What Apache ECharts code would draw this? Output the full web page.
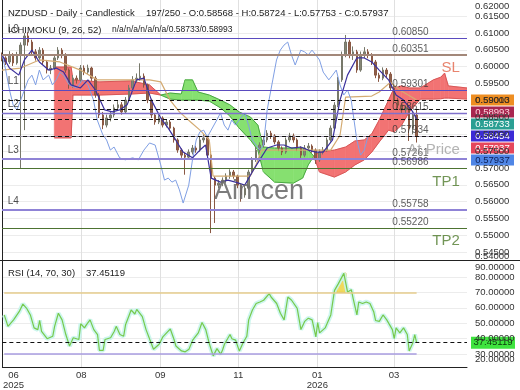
<!DOCTYPE html>
<html>
<head>
<meta charset="utf-8">
<script src="https://cdn.jsdelivr.net/npm/echarts@6.0.0/dist/echarts.min.js"></script>
<style>
html,body{margin:0;padding:0;background:#ffffff;}
#chart{width:520px;height:390px;}
</style>
</head>
<body>
<div id="chart"></div>
<script>
// ---------------- DATA ----------------
const candleBars = [0,2,4,6,8,10,12,14,16,18,20,22,24,26,28,30,32,34,36,38,40,42,44,46,48,50,52,54,56,58,60,62,64,66,68,70,72,74,76,78,80,82,84,86,88,90,92,94,96,98,100,102,104,106,108,110,112,114,116,118,120,122,124,126,128,130,132,134,136,138,140,142,144,146,148,150,152,154,156,158,160,162,164,166,168,170,172,174,176,178,180,182,184,186,188,190,192,194,196,198,200,202,204,206,208,210,212,214,216,218,220,222];
const firstOpen = 0.6030;
const closes = [0.6026,0.6014,0.6035,0.6011,0.6035,0.6064,0.6091,0.6073,0.6044,0.6026,
0.6049,0.6014,0.5990,0.5996,0.6026,0.6049,0.6035,0.5990,0.5946,0.5966,
0.5961,0.5996,0.5984,0.5996,0.5966,0.5916,0.5857,0.5827,0.5848,0.5857,
0.5878,0.5887,0.5866,0.5901,0.5937,0.5961,0.5966,0.5972,0.5946,0.5901,
0.5857,0.5836,0.5848,0.5827,0.5836,0.5818,0.5783,0.5753,0.5738,0.5732,
0.5747,0.5759,0.5753,0.5783,0.5789,0.5738,0.5670,0.5649,0.5655,0.5664,
0.5676,0.5688,0.5676,0.5649,0.5620,0.5640,0.5688,0.5724,0.5753,0.5768,
0.5783,0.5803,0.5795,0.5777,0.5759,0.5747,0.5783,0.5795,0.5783,0.5759,
0.5738,0.5759,0.5765,0.5753,0.5724,0.5747,0.5753,0.5783,0.5818,0.5886,
0.5961,0.6035,0.6073,0.6035,0.6044,0.5990,0.6035,0.6044,0.6035,0.6014,
0.5975,0.5966,0.5990,0.5978,0.5937,0.5901,0.5886,0.5872,0.5878,0.5818,
0.58568,0.57937];
const lows = [0.6016,0.6005,0.6008,0.6002,0.6006,0.5700,0.5812,0.6062,0.6036,0.6018,
0.6020,0.6005,0.5980,0.5978,0.5990,0.6020,0.6025,0.5982,0.5935,0.5938,
0.5950,0.5955,0.5975,0.5978,0.5958,0.5908,0.5848,0.5815,0.5820,0.5838,
0.5850,0.5870,0.5858,0.5860,0.5895,0.5930,0.5952,0.5958,0.5938,0.5892,
0.5848,0.5828,0.5830,0.5820,0.5820,0.5810,0.5775,0.5745,0.5730,0.5680,
0.5725,0.5740,0.5745,0.5748,0.5775,0.5730,0.5507,0.5537,0.5640,0.5646,
0.5656,0.5668,0.5668,0.5640,0.5600,0.5612,0.5635,0.5680,0.5718,0.5745,
0.5760,0.5776,0.5786,0.5770,0.5750,0.5738,0.5742,0.5776,0.5775,0.5750,
0.5730,0.5732,0.5750,0.5745,0.5712,0.5718,0.5740,0.5748,0.5778,0.5812,
0.5880,0.5955,0.6028,0.6025,0.6020,0.5982,0.5985,0.6026,0.6025,0.6005,
0.5966,0.5955,0.5960,0.5968,0.5928,0.5890,0.5876,0.5860,0.5862,0.5780,
0.5800,0.57753];
const highs = [0.6042,0.6031,0.6046,0.6040,0.6044,0.6072,0.6100,0.6102,0.6080,0.6052,
0.6058,0.6055,0.6020,0.6005,0.6034,0.6058,0.6055,0.6040,0.5995,0.5975,
0.5974,0.6005,0.6004,0.6006,0.6000,0.5972,0.5922,0.5866,0.5858,0.5866,
0.5888,0.5898,0.5895,0.5910,0.5946,0.5972,0.5980,0.6010,0.5980,0.5950,
0.5905,0.5862,0.5856,0.5853,0.5844,0.5842,0.5822,0.5788,0.5758,0.5745,
0.5755,0.5768,0.5766,0.5792,0.5800,0.5795,0.5742,0.5675,0.5664,0.5672,
0.5684,0.5696,0.5694,0.5680,0.5652,0.5648,0.5695,0.5732,0.5762,0.5776,
0.5792,0.5812,0.5810,0.5800,0.5782,0.5764,0.5790,0.5804,0.5802,0.5788,
0.5764,0.5768,0.5774,0.5770,0.5758,0.5755,0.5762,0.5790,0.5826,0.5895,
0.5970,0.6045,0.6094,0.6080,0.6060,0.6050,0.6045,0.6058,0.6052,0.6040,
0.6020,0.5982,0.5998,0.5996,0.5984,0.5942,0.5908,0.5892,0.5886,0.5883,
0.5865,0.58724];

const tenkanBars = [0,4,9,12,16,20,25,29,33,37,42,46,50,55,59,63,67,72,76,80,85,89,93,97,102,106,109,112,117,121,125,130,134,138,142,147,151,155,160,164,168,172,177,181,185,190,194,198,202,207,211,215,220,222];
const tenkan = [0.6035,0.5996,0.5975,0.6020,0.6049,0.6014,0.5990,0.5996,0.5984,0.5946,
0.5937,0.5961,0.5931,0.5872,0.5866,0.5872,0.5887,0.5961,0.5966,0.5901,
0.5848,0.5818,0.5783,0.5747,0.5730,0.5753,0.5768,0.5670,0.5658,0.5664,
0.5658,0.5649,0.5688,0.5724,0.5759,0.5768,0.5768,0.5759,0.5762,0.5753,
0.5747,0.5747,0.5783,0.5901,0.5975,0.6026,0.6026,0.6014,0.5990,0.5961,
0.5916,0.5901,0.5866,0.58454];
const kijunBars = [0,10,20,31,42,51,63,79,85,90,95,101,106,111,113,133,136,139,176,181,184,198,202,208,213,222];
const kijun = [0.5990,0.5996,0.6020,0.6014,0.5990,0.5961,0.5961,0.5961,0.5955,0.5901,
0.5866,0.5836,0.5812,0.5783,0.5676,0.5676,0.5709,0.5753,0.5753,0.5797,
0.5910,0.5913,0.5925,0.5954,0.5931,0.59013];
const chikouBars = [0,2,4,6,8,10,12,14,16,18,20,22,25,27,29,31,33,36,40,43,46,49,51,54,56,58,60,63,66,70,73,76,79,82,85,87,89,91,93,95,97,100,102,104,106,108,110,112,115,117,119,121,123,125,127,130,132,134,136,138,140,142,145,147,149,151,153,155,157,160,162,164,166,168,170,172,175,177,179,181,183,185,187,190,192,194,196];
const chikou = [0.6035,0.5990,0.5931,0.5886,0.5872,0.5901,0.5931,0.5961,0.5975,0.5946,
0.5990,0.5961,0.5975,0.5946,0.5961,0.5984,0.5975,0.5946,0.5937,0.5961,
0.5946,0.5901,0.5842,0.5798,0.5783,0.5753,0.5762,0.5730,0.5724,0.5730,
0.5724,0.5753,0.5774,0.5768,0.5709,0.5664,0.5670,0.5658,0.5664,0.5635,
0.5596,0.5649,0.5724,0.5783,0.5807,0.5812,0.5792,0.5812,0.5842,0.5863,
0.5827,0.5812,0.5842,0.5827,0.5842,0.5863,0.5827,0.5783,0.5768,0.5753,
0.5768,0.5872,0.5961,0.6020,0.6049,0.6064,0.6073,0.6035,0.6005,0.6049,
0.6044,0.6035,0.6049,0.6035,0.6020,0.5984,0.5961,0.5975,0.5990,0.5946,
0.5916,0.5931,0.5901,0.5783,0.5738,0.5753,0.57937];
const cloudBars = [28,37,38,52,69,79,85,90,96,98,102,105,111,117,122,127,133,137,140,146,156,161,164,167,170,178,184,189,194,198,202,207,210,214,218,224,231,235,237,239,249];
const spanA = [0.5789,0.5789,0.5916,0.5916,0.5919,0.5922,0.5916,0.5922,0.5919,0.5961,
0.5961,0.5925,0.5916,0.5901,0.5887,0.5866,0.5851,0.5827,0.5762,0.5759,
0.5759,0.5759,0.5753,0.5735,0.5688,0.5673,0.5688,0.5709,0.5724,0.5747,
0.5777,0.5812,0.5807,0.5827,0.5865,0.5904,0.5904,0.5905,0.5907,0.5907,0.5904];
const spanB = [0.5999,0.5999,0.5961,0.5955,0.5958,0.5946,0.5916,0.5904,0.5901,0.5901,
0.5901,0.5901,0.5898,0.5878,0.5854,0.5818,0.5783,0.5753,0.5688,0.5658,
0.5655,0.5670,0.5709,0.5735,0.5747,0.5753,0.5762,0.5780,0.5783,0.5801,
0.5842,0.5901,0.5937,0.5943,0.5937,0.5937,0.5961,0.5969,0.5981,0.5943,0.5937];

const rsiBars = [1,3,6,9,11,13,15,17,19,20,21,24,27,28,30,32,34,36,38,41,42,44,45,47,49,51,52,54,55,58,60,61,63,65,66,68,69,71,72,73,75,77,79,81,84,86,88,90,92,93,96,98,100,102,103,105,107,109,111,113,115,117,118,119,122,123,125,127,129,131,132,134,136,138,140,143,144,147,149,151,153,155,158,160,162,164,166,168,169,170,173,176,178,180,183,184,185,187,188,190,191,193,195,197,199,200,202,204,206,207,209,210,211,213,214,215,217,218,220,221,222];
const rsiValues = [55.4,48.0,52.2,57.5,62.4,59.7,55.4,47.0,45.9,51.8,44.8,40.0,41.6,48.0,56.5,52.2,42.7,35.3,40.6,39.5,49.7,47.0,49.0,52.2,45.9,42.7,32.5,32.5,39.5,40.6,44.8,48.0,42.7,41.6,49.0,55.4,58.6,56.0,59.0,59.7,54.3,45.9,39.5,33.2,36.4,41.2,43.8,46.3,39.5,35.3,32.1,31.5,33.2,39.1,40.0,43.8,50.5,45.9,36.4,28.9,33.6,30.0,32.7,36.4,42.7,40.0,39.1,32.1,37.4,41.6,52.2,58.6,62.8,63.8,64.9,69.2,67.0,62.8,56.5,52.2,67.0,64.9,59.7,45.9,51.2,53.3,52.2,41.2,50.5,43.8,47.0,55.4,71.3,75.5,82.3,82.5,70.2,71.7,66.0,55.4,63.8,62.8,63.8,62.8,57.5,51.8,51.2,55.4,52.2,53.3,45.9,40.0,47.0,43.8,44.8,47.0,42.7,32.1,37.4,42.7,37.45119];
const rsiUpper = 70, rsiLower = 30, rsiLast = 37.45119;

const levelValues = [0.60850,0.60351,0.59301,0.58615,0.57934,0.57261,0.56986,0.55758,0.55220];
const levelTags   = ['L0','SL','L1','L2','At Price','L3','TP1','L4','TP2'];
const dashedValues = [0.59013,0.58993,0.58733,0.58454,0.57937];
const badgeValues = [0.59013,0.58993,0.58733,0.58454,0.57937,0.57937];
const rsiBadgeValue = 37.45119;

const priceTickValues = [0.545,0.550,0.555,0.560,0.565,0.570,0.575,0.580,0.585,0.590,0.595,0.600,0.605,0.610,0.615];
const priceTickTexts = ['0.54500','0.55000','0.55500','0.56000','0.56500','0.57000','0.57500','0.58000','0.58500','0.59000','0.59500','0.60000','0.60500','0.61000','0.61500'];
const priceEdgeTexts = ['0.62000','0.54000'];
const rsiTickValues = [30,40,50,60,70,80];
const rsiTickTexts = ['30.00000','40.00000','50.00000','60.00000','70.00000','80.00000'];
const rsiEdgeTexts = ['90.00000','20.00000'];
const xTickLabels = ['06\n2025','08','09','11','01\n2026','03'];

// ---------------- LAYOUT / STYLE ----------------
const FONT = 'Liberation Sans, Arial, sans-serif';
const priceEdgePos = [0.61799, 0.54376];   // top / bottom labels pinned inside pane
const rsiEdgePos = [85.9, 26.8];
const xGridBars = [42.3,84.6,126.4,168.8,209.9];
const xLabelBars = [6,42.3,84.6,126.4,168.8,209.9];
const levelStyle = [
  {c:'#5a4bbf',w:1},{c:'#a3887a',w:2.2},{c:'#5a4bbf',w:1.2},{c:'#7f70cc',w:1.4},{c:'#9a92a6',w:1},
  {c:'#8f83d6',w:2},{c:'#4d7331',w:1.2},{c:'#8f83d6',w:2},{c:'#4d7331',w:1.2}];
const tagColor = {'SL':'#e4654a','At Price':'#a0a0a0','TP1':'#4f7a2c','TP2':'#4f7a2c'};
const badgeBg = ['#ee8e22','#a8264f','#2a9f93','#3b2bd6','#e5475c','#4f86e6'];
const badgeFg = ['#4a2100','#ffd6e2','#ffffff','#ffffff','#ffffff','#0d1f55'];

function nearestText(v, pos, texts){
  let bi=0, bd=Infinity;
  pos.forEach((p,i)=>{const d=Math.abs(p-v); if(d<bd){bd=d;bi=i;}});
  return texts[bi];
}

const candleData = closes.map((c,i)=>[candleBars[i], i===0?firstOpen:closes[i-1], c, lows[i], highs[i]]);
const pairs = (xs, ys) => xs.map((x,i)=>[x, ys[i]]);

// band between two series (a above b -> colUp, otherwise colDown), drawn in one custom item
function makeBandRender(xs, as, bs, colUp, colDown, edgeUp, edgeDown){
  return function(params, api){
    const kids=[];
    const add=(pts,up)=>{
      const col = up?colUp:colDown; if(!col) return;
      kids.push({type:'polygon', shape:{points:pts.map(p=>api.coord(p))}, style:{fill:col, stroke:col, lineWidth:0.6}});
    };
    const edge=(p,q,up)=>{
      const col = up?edgeUp:edgeDown; if(!col) return;
      kids.push({type:'polyline', shape:{points:[api.coord(p),api.coord(q)]}, style:{stroke:col, lineWidth:0.9, fill:null}});
    };
    for (let i=0;i<xs.length-1;i++){
      const x0=xs[i], a0=as[i], b0=bs[i], x1=xs[i+1], a1=as[i+1], b1=bs[i+1];
      const d0=a0-b0, d1=a1-b1;
      if (d0*d1<0){
        const t=d0/(d0-d1), xm=x0+t*(x1-x0), ym=a0+t*(a1-a0);
        add([[x0,a0],[xm,ym],[x0,b0]], d0>0);
        add([[xm,ym],[x1,a1],[x1,b1]], d1>0);
        edge([x0,a0],[xm,ym],d0>0); edge([x0,b0],[xm,ym],d0>0);
        edge([xm,ym],[x1,a1],d1>0); edge([xm,ym],[x1,b1],d1>0);
      } else {
        const up=(d0+d1)>0;
        add([[x0,a0],[x1,a1],[x1,b1],[x0,b0]], up);
        edge([x0,a0],[x1,a1],up); edge([x0,b0],[x1,b1],up);
      }
    }
    return {type:'group', children:kids};
  };
}
const rsiUpperArr = rsiBars.map(()=>rsiUpper);

const lineSeries = (name, xs, ys, color, width, z, xi, yi) => ({
  name, type:'line', xAxisIndex:xi||0, yAxisIndex:yi||0, data:pairs(xs,ys), symbol:'none',
  lineStyle:{color, width}, z, silent:true, animation:false
});

const levelMarkData = levelValues.map((v,i)=>({yAxis:v, lineStyle:{color:levelStyle[i].c, width:levelStyle[i].w, type:'solid'}}))
  .concat(dashedValues.map(v=>({yAxis:v, lineStyle:{color:'#111', width:1, type:[4,3]}})));

const lTagData = [], rTagData = [];
levelValues.forEach((v,i)=>{
  const t=levelTags[i];
  if (t.charAt(0)==='L') lTagData.push([3, v, t]);
  else rTagData.push({value:[245.2, v, t], label:{color:tagColor[t]}});
});

const option = {
  animation:false,
  backgroundColor:'#ffffff',
  grid:[
    {left:2, right:53, top:0, height:260},
    {left:2, right:53, top:261, height:107}
  ],
  xAxis:[
    {gridIndex:0, type:'value', min:0, max:249, axisLine:{show:false},
     axisTick:{show:false, customValues:xGridBars}, axisLabel:{show:false},
     splitLine:{show:true, lineStyle:{color:'#e0e0e0', width:1}}},
    {gridIndex:1, type:'value', min:0, max:249, axisLine:{show:true, lineStyle:{color:'#222', width:1}},
     axisTick:{show:false, customValues:xGridBars},
     axisLabel:{customValues:xLabelBars, formatter:v=>nearestText(v,xLabelBars,xTickLabels),
       fontSize:9.5, fontFamily:FONT, color:'#333', margin:3, lineHeight:10, hideOverlap:false},
     splitLine:{show:true, lineStyle:{color:'#e0e0e0', width:1}}}
  ],
  yAxis:[
    {gridIndex:0, type:'value', position:'right', min:0.54273, max:0.61976,
     axisLine:{show:true, lineStyle:{color:'#222', width:1}},
     axisTick:{show:false, customValues:priceTickValues},
     splitLine:{show:true, lineStyle:{color:'#ececec', width:1}},
     axisLabel:{customValues:priceTickValues, formatter:v=>nearestText(v,priceTickValues,priceTickTexts),
       fontSize:9.5, fontFamily:FONT, color:'#333', margin:8, hideOverlap:false}},
    {gridIndex:1, type:'value', position:'right', min:21.7, max:90.3,
     axisLine:{show:true, lineStyle:{color:'#222', width:1}},
     axisTick:{show:false, customValues:rsiTickValues},
     splitLine:{show:true, lineStyle:{color:'#ececec', width:1}},
     axisLabel:{customValues:rsiTickValues, formatter:v=>nearestText(v,rsiTickValues,rsiTickTexts),
       fontSize:9.5, fontFamily:FONT, color:'#333', margin:8, hideOverlap:false}}
  ],
  series:[
    {name:'cloud', type:'custom', xAxisIndex:0, yAxisIndex:0, data:[[cloudBars[0], spanA[0]]],
     renderItem:makeBandRender(cloudBars, spanA, spanB, '#86e070','#f27373','#3f9f3a','#d45050'),
     clip:true, z:1, silent:true},
    {name:'candles', type:'candlestick', xAxisIndex:0, yAxisIndex:0, data:candleData,
     encode:{x:0, y:[1,2,3,4]}, barWidth:2, z:2, silent:true,
     itemStyle:{color:'#858676', color0:'#8e604b', borderColor:'#77786a', borderColor0:'#8a5843', borderWidth:1}},
    lineSeries('kijun', kijunBars, kijun, '#d4ab72', 1.2, 3),
    lineSeries('chikou', chikouBars, chikou, '#7f9fe4', 1, 3),
    lineSeries('tenkan', tenkanBars, tenkan, '#3a2f9c', 1.2, 3),
    {name:'levels', type:'line', xAxisIndex:0, yAxisIndex:0, data:[], z:4, silent:true,
     markLine:{symbol:'none', silent:true, precision:6, label:{show:false}, animation:false, data:levelMarkData}},
    {name:'levelValues', type:'scatter', xAxisIndex:0, yAxisIndex:0, symbolSize:0.1, z:5, silent:true,
     itemStyle:{color:'rgba(0,0,0,0)'}, data:levelValues.map(v=>[209, v]),
     label:{show:true, position:'right', distance:0, offset:[0,-6], formatter:p=>p.value[1].toFixed(5),
       fontSize:10, fontFamily:FONT, color:'#333'}},
    {name:'leftTags', type:'scatter', xAxisIndex:0, yAxisIndex:0, symbolSize:0.1, z:5, silent:true,
     itemStyle:{color:'rgba(0,0,0,0)'}, data:lTagData,
     label:{show:true, position:'right', distance:0, offset:[0,-9], formatter:p=>p.value[2],
       fontSize:10, fontFamily:FONT, color:'#222'}},
    {name:'rightTags', type:'scatter', xAxisIndex:0, yAxisIndex:0, symbolSize:0.1, z:5, silent:true,
     itemStyle:{color:'rgba(0,0,0,0)'}, data:rTagData,
     label:{show:true, position:'left', distance:0, offset:[0,13], formatter:p=>p.value[2],
       fontSize:15, fontFamily:FONT}},
    // RSI pane
    {name:'rsiBand', type:'custom', xAxisIndex:1, yAxisIndex:1, data:[[rsiBars[0], rsiUpper]],
     renderItem:makeBandRender(rsiBars, rsiValues, rsiUpperArr, '#f0d95c', null, '#e0c040', null),
     clip:true, z:1, silent:true},
    lineSeries('rsiHalo', rsiBars, rsiValues, 'rgba(200,245,236,0.9)', 4.5, 2, 1, 1),
    Object.assign(lineSeries('rsi', rsiBars, rsiValues, '#77c94c', 1.2, 3, 1, 1), {
      markLine:{symbol:'none', silent:true, precision:6, label:{show:false}, animation:false, data:[
        [{coord:[rsiBars[0],rsiUpper], lineStyle:{color:'#e6cd8d', width:1.5, type:'solid'}},{coord:[rsiBars[rsiBars.length-1],rsiUpper]}],
        [{coord:[rsiBars[0],rsiLower], lineStyle:{color:'#a99de0', width:1.5, type:'solid'}},{coord:[rsiBars[rsiBars.length-1],rsiLower]}],
        {yAxis:rsiLast, lineStyle:{color:'#111', width:1, type:[4,3]}}
      ]}})
  ],
  graphic:[]
};

const chart = echarts.init(document.getElementById('chart'), null, {renderer:'canvas'});
chart.setOption(option);

// overlays: header texts, watermark, separator, pinned axis labels, value badges
const g = [];
const txt = (x,y,text,size,color,extra) => Object.assign({type:'text', x, y, z:50,
  style:{text, fontSize:size, fontFamily:FONT, fill:color, verticalAlign:'middle', align:'left'}}, extra||{});
g.push({type:'line', z:40, shape:{x1:0,y1:260.5,x2:520,y2:260.5}, style:{stroke:'#222', lineWidth:1}});
g.push(txt(8,13,'NZDUSD - Daily - Candlestick',9.5,'#222'));
g.push(txt(146,13,'197/250 - O:0.58568 - H:0.58724 - L:0.57753 - C:0.57937',9.5,'#222'));
g.push(txt(8,30,'ICHIMOKU (9, 26, 52)',9.5,'#222'));
g.push(txt(112,30,'n/a/n/a/n/a/n/a/0.58733/0.58993',8.5,'#222'));
g.push(txt(8,273,'RSI (14, 70, 30)',9.5,'#222'));
g.push(txt(86,273,'37.45119',9.5,'#222'));
g.push({type:'text', x:259, y:192, z:45, style:{text:'Aimcen', fontSize:27, fontFamily:FONT, fill:'rgba(110,110,110,0.9)', align:'center', verticalAlign:'middle'}});

priceEdgePos.forEach((v,i)=>{
  g.push(txt(475, chart.convertToPixel({yAxisIndex:0}, v), priceEdgeTexts[i], 9.5, '#333'));
});
rsiEdgePos.forEach((v,i)=>{
  g.push(txt(475, chart.convertToPixel({yAxisIndex:1}, v), rsiEdgeTexts[i], 9.5, '#333'));
});

let prev = -Infinity;
badgeValues.forEach((v,i)=>{
  let y = chart.convertToPixel({yAxisIndex:0}, v);
  y = Math.max(y, prev + 12); prev = y;
  g.push({type:'group', z:60, children:[
    {type:'rect', shape:{x:471, y:y-5.5, width:43, height:11}, style:{fill:badgeBg[i]}},
    {type:'text', x:492.5, y:y, style:{text:v.toFixed(5), fontSize:9.5, fontFamily:FONT, fill:badgeFg[i], align:'center', verticalAlign:'middle'}}
  ]});
});
const ry = chart.convertToPixel({yAxisIndex:1}, rsiBadgeValue);
g.push({type:'group', z:60, children:[
  {type:'rect', shape:{x:471, y:ry-6, width:44, height:12}, style:{fill:'#3fe33f'}},
  {type:'text', x:493, y:ry, style:{text:rsiBadgeValue.toFixed(5), fontSize:9.5, fontFamily:FONT, fill:'#0c3a0c', align:'center', verticalAlign:'middle'}}
]});
chart.setOption({graphic:g});
</script>
</body>
</html>
